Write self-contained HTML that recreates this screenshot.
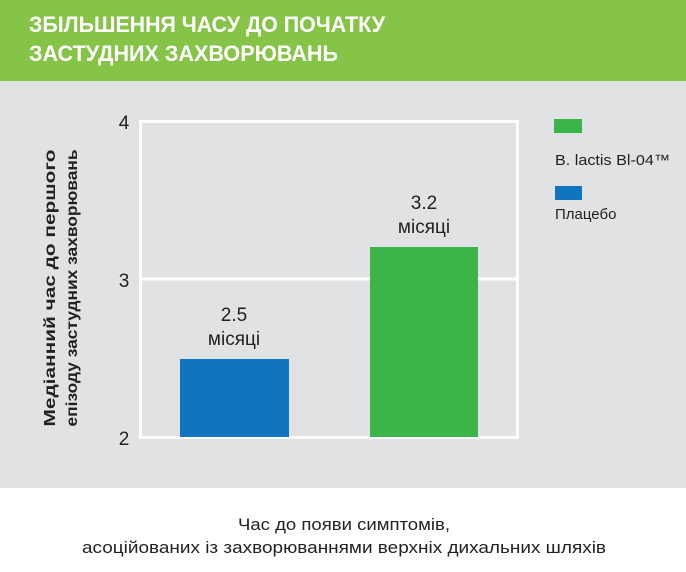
<!DOCTYPE html>
<html><head><meta charset="utf-8"><style>
body{margin:0;width:686px;height:572px;position:relative;font-family:"Liberation Sans","DejaVu Sans",sans-serif;background:#fff;overflow:hidden}
.a{position:absolute}
</style></head><body>
<div class="a" style="left:0;top:0;width:686px;height:81px;background:#86c447"></div>
<svg class="a" style="left:0;top:0" width="686" height="81">
<g fill="#fff" font-weight="bold" font-size="22">
<text x="29" y="32" textLength="356" lengthAdjust="spacingAndGlyphs">ЗБІЛЬШЕННЯ ЧАСУ ДО ПОЧАТКУ</text>
<text x="29" y="61" textLength="309" lengthAdjust="spacingAndGlyphs">ЗАСТУДНИХ ЗАХВОРЮВАНЬ</text>
</g></svg>
<div class="a" style="left:0;top:81px;width:686px;height:407px;background:#e1e2e3"></div>
<svg class="a" style="left:0;top:81px" width="686" height="407">
<rect x="140.5" y="40.5" width="377" height="316" fill="none" stroke="#fff" stroke-width="3"/>
<line x1="140" y1="198" x2="518" y2="198" stroke="#fff" stroke-width="3"/>
<rect x="180" y="278" width="109" height="78" fill="#1074c0"/>
<rect x="370" y="166" width="108" height="190" fill="#3bb54a"/>
<g font-size="19" fill="#222" text-anchor="middle">
<text x="124" y="48">4</text><text x="124" y="206">3</text><text x="124" y="364">2</text>
<text x="234" y="240">2.5</text><text x="234" y="264">місяці</text>
<text x="424" y="128">3.2</text><text x="424" y="152">місяці</text>
</g>
<g transform="translate(55,207) rotate(-90)" font-size="16" font-weight="bold" fill="#222" text-anchor="middle">
<text x="0" y="0" textLength="277" lengthAdjust="spacingAndGlyphs">Медіанний час до першого</text>
<text x="0" y="22" textLength="277" lengthAdjust="spacingAndGlyphs">епізоду застудних захворювань</text>
</g>
<rect x="554" y="38" width="28" height="14" fill="#3bb54a"/>
<rect x="555" y="105" width="27" height="14" fill="#1074c0"/>
<g font-size="15" fill="#222"><text x="555" y="84" textLength="115" lengthAdjust="spacingAndGlyphs">B. lactis Bl-04™</text><text x="555" y="138">Плацебо</text></g>
</svg>
<svg class="a" style="left:0;top:488px" width="686" height="84">
<g font-size="17" fill="#222">
<text x="238" y="42" textLength="212" lengthAdjust="spacingAndGlyphs">Час до появи симптомів,</text>
<text x="82" y="65" textLength="524" lengthAdjust="spacingAndGlyphs">асоційованих із захворюваннями верхніх дихальних шляхів</text>
</g></svg>
</body></html>
